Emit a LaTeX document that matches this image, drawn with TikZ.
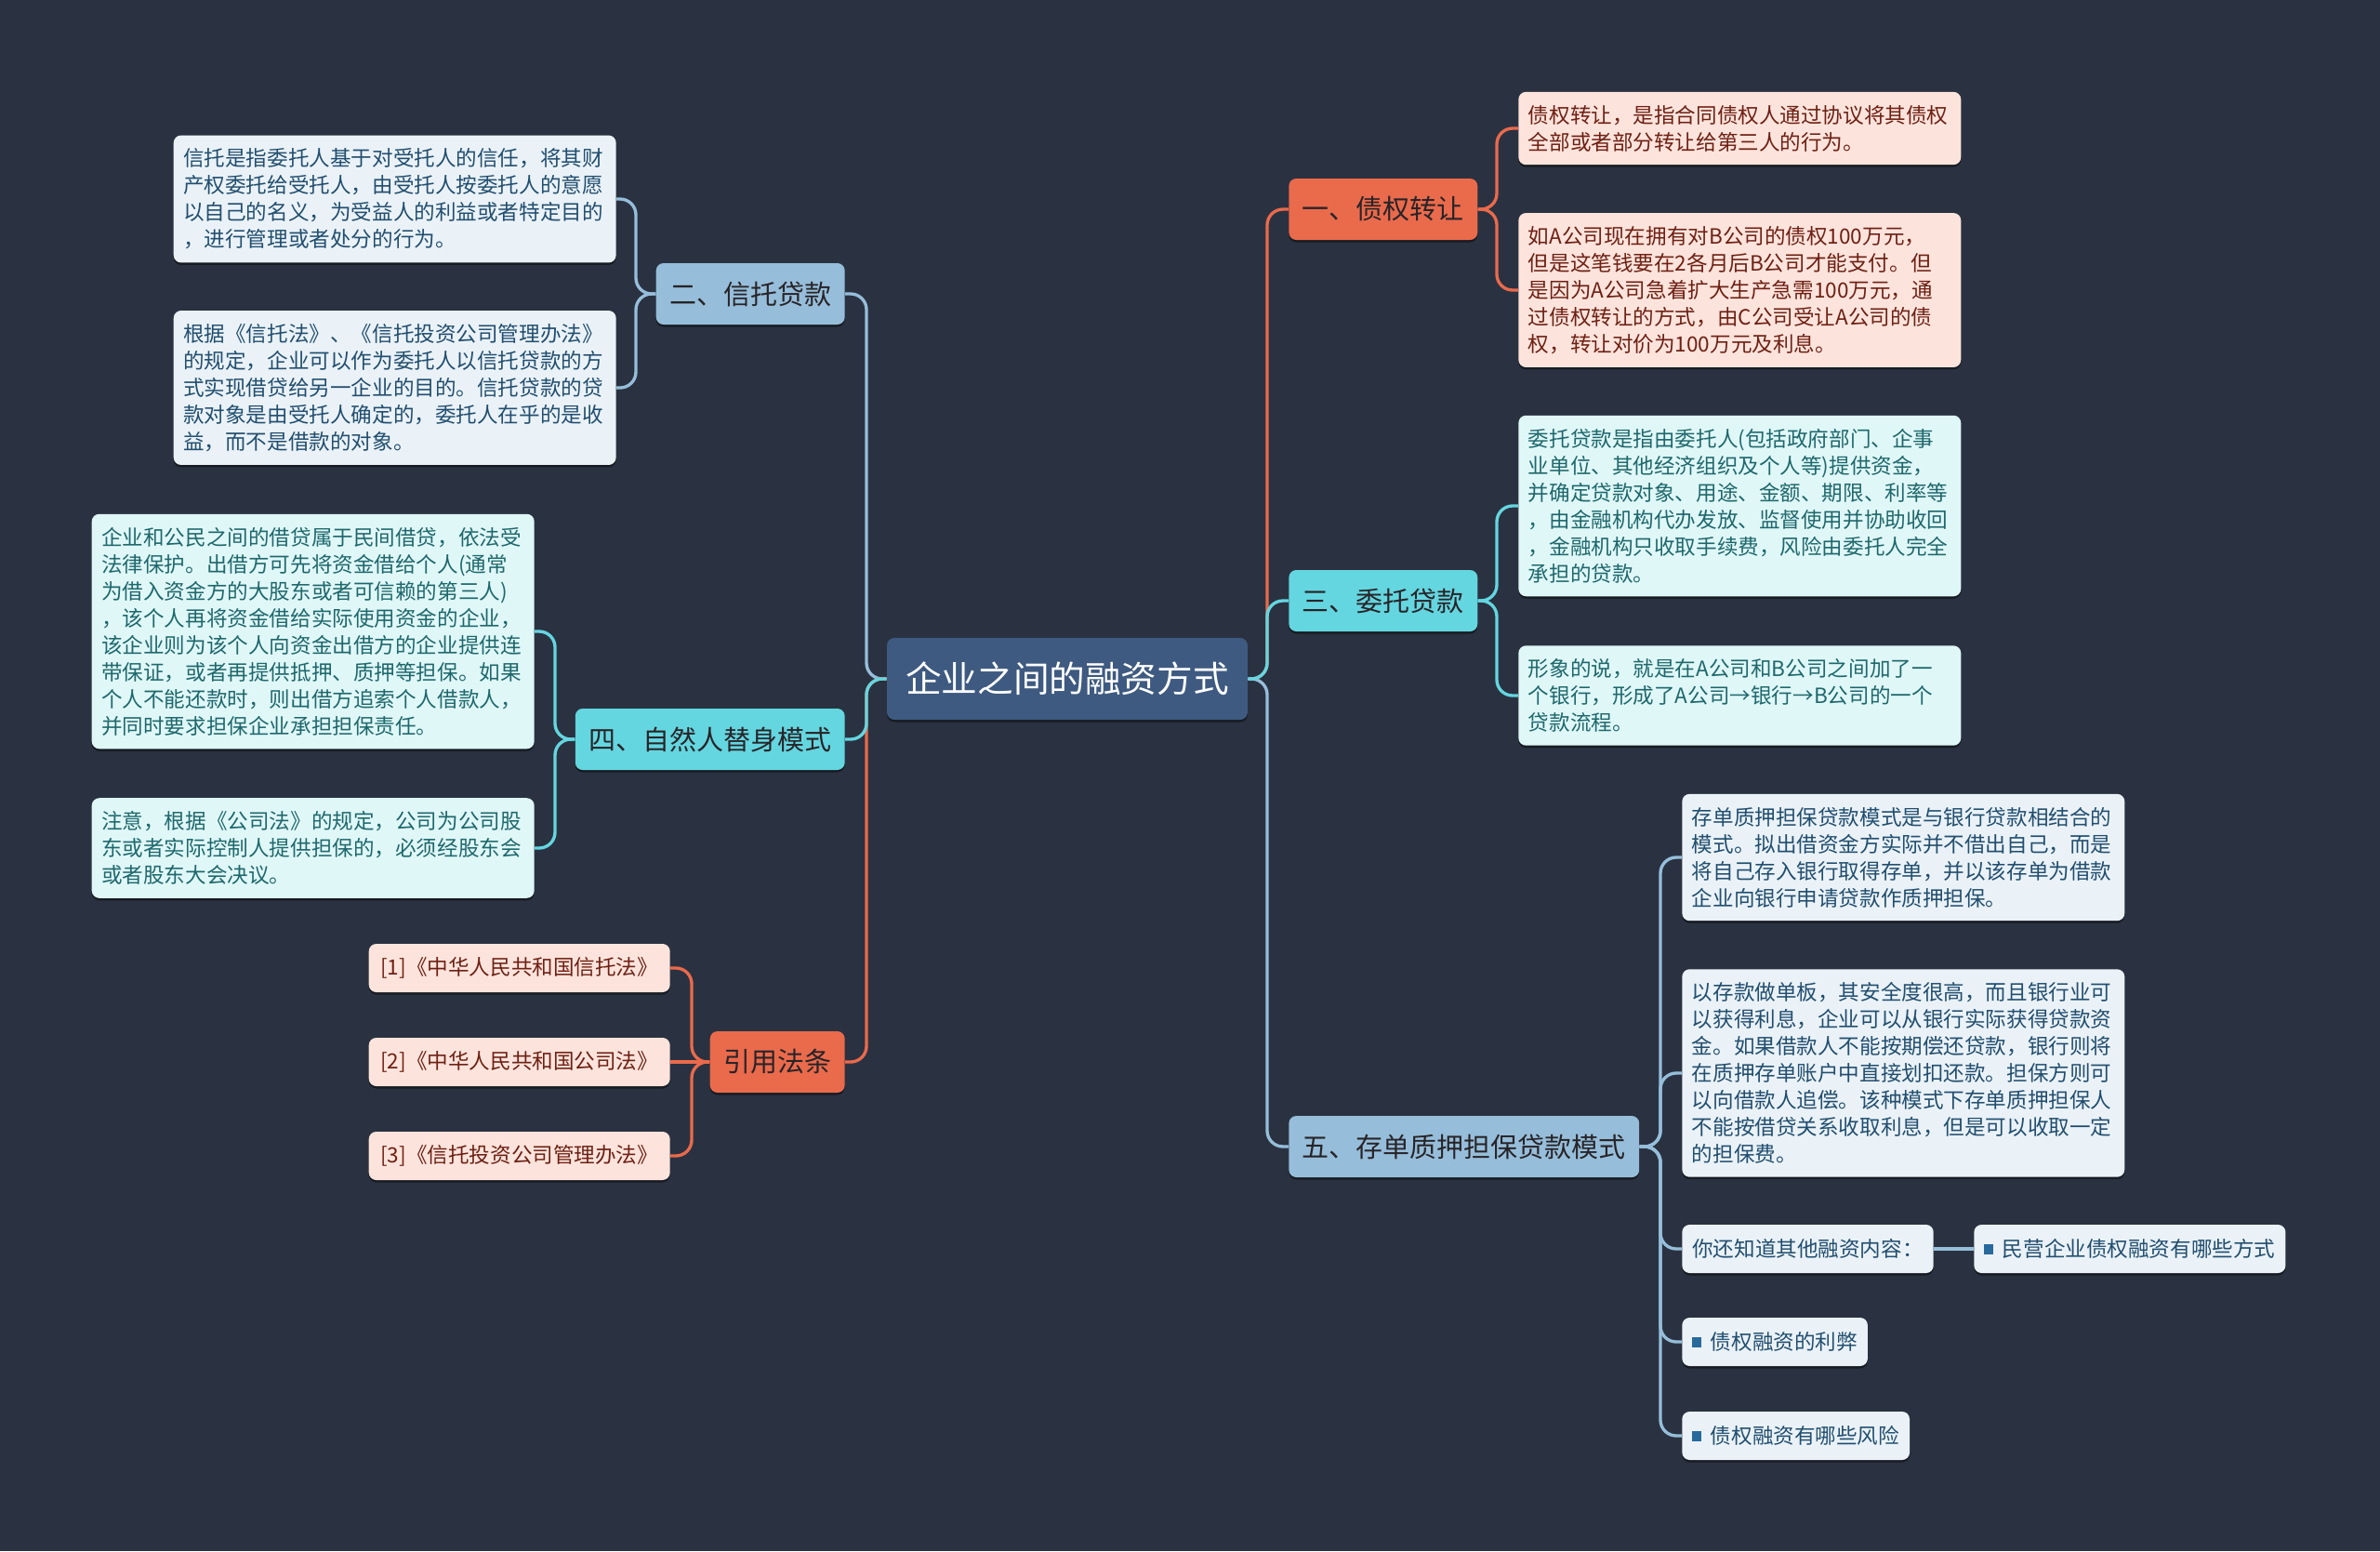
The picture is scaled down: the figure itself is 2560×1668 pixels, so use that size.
\documentclass[tikz,border=0pt]{standalone}
\usepackage{fontspec}
\setmainfont{Noto Sans CJK SC}
\usepackage{xcolor}
\usetikzlibrary{shadows}
\definecolor{bgnavy}{RGB}{42,50,65}
\definecolor{rootblue}{RGB}{62,90,128}
\definecolor{brcoral}{RGB}{234,106,76}
\definecolor{brcyan}{RGB}{100,214,224}
\definecolor{brblue}{RGB}{150,190,218}
\definecolor{lfcoral}{RGB}{252,228,220}
\definecolor{lfcyan}{RGB}{224,247,248}
\definecolor{lfblue}{RGB}{234,242,248}
\definecolor{txcoral}{RGB}{110,32,20}
\definecolor{txcyan}{RGB}{30,104,108}
\definecolor{txblue}{RGB}{34,78,110}
\definecolor{txdark}{RGB}{40,36,40}
\definecolor{bulletblue}{RGB}{40,105,155}
\newcommand\sqbul{{\color{bulletblue}\rule[0.06cm]{0.19cm}{0.22cm}}\hspace{0.2cm}}

\begin{document}
\begin{tikzpicture}[x=0.02cm,y=-0.02cm,
  box/.style={rounded corners=0.16cm,align=left,
    drop shadow={shadow xshift=0pt,shadow yshift=-0.05cm,opacity=0.45,fill=black}},
  root/.style={box,fill=rootblue,text=white,font=\fontsize{22}{26}\selectfont,
    minimum height=1.76cm,inner xsep=0.4cm},
  br/.style={box,text=txdark,font=\fontsize{16.5}{20}\selectfont,
    minimum height=1.32cm,inner xsep=0.29cm},
  leaf/.style={box,text width=9.1cm,inner xsep=0.21cm,inner ysep=8.1pt,
    font=\fontsize{12.85}{16.5}\selectfont},
  tag/.style={box,minimum height=1.04cm,inner xsep=0.22cm,
    font=\fontsize{12.85}{16.5}\selectfont},
  ln/.style={line width=1.9pt,rounded corners=0.34cm}]
  \fill[bgnavy] (0,0) rectangle (2560,1668);
  \useasboundingbox (0,0) rectangle (2560,1668);

  \node[root](root) at (1148,730){企业之间的融资方式};

  % right side
  \node[br,fill=brcoral,anchor=west](b1) at (1386,225){一、债权转让};
  \node[br,fill=brcyan,anchor=west](b3) at (1386,646){三、委托贷款};
  \node[br,fill=brblue,anchor=west](b5) at (1386,1233){五、存单质押担保贷款模式};
  % left side
  \node[br,fill=brblue,anchor=east](b2) at (909,316){二、信托贷款};
  \node[br,fill=brcyan,anchor=east](b4) at (909,795){四、自然人替身模式};
  \node[br,fill=brcoral,anchor=east](b6) at (909,1142){引用法条};

  % one
  \node[leaf,fill=lfcoral,text=txcoral,anchor=west](l1a) at (1633,138){债权转让，是指合同债权人通过协议将其债权\\全部或者部分转让给第三人的行为。};
  \node[leaf,fill=lfcoral,text=txcoral,anchor=west](l1b) at (1633,312){如A公司现在拥有对B公司的债权100万元，\\但是这笔钱要在2各月后B公司才能支付。但\\是因为A公司急着扩大生产急需100万元，通\\过债权转让的方式，由C公司受让A公司的债\\权，转让对价为100万元及利息。};
  % three
  \node[leaf,fill=lfcyan,text=txcyan,anchor=west](l3a) at (1633,544){委托贷款是指由委托人(包括政府部门、企事\\业单位、其他经济组织及个人等)提供资金，\\并确定贷款对象、用途、金额、期限、利率等\\，由金融机构代办发放、监督使用并协助收回\\，金融机构只收取手续费，风险由委托人完全\\承担的贷款。};
  \node[leaf,fill=lfcyan,text=txcyan,anchor=west](l3b) at (1633,748){形象的说，就是在A公司和B公司之间加了一\\个银行，形成了A公司→银行→B公司的一个\\贷款流程。};
  % five
  \node[leaf,fill=lfblue,text=txblue,anchor=west](l5a) at (1809,922){存单质押担保贷款模式是与银行贷款相结合的\\模式。拟出借资金方实际并不借出自己，而是\\将自己存入银行取得存单，并以该存单为借款\\企业向银行申请贷款作质押担保。};
  \node[leaf,fill=lfblue,text=txblue,anchor=west](l5b) at (1809,1154){以存款做单板，其安全度很高，而且银行业可\\以获得利息，企业可以从银行实际获得贷款资\\金。如果借款人不能按期偿还贷款，银行则将\\在质押存单账户中直接划扣还款。担保方则可\\以向借款人追偿。该种模式下存单质押担保人\\不能按借贷关系收取利息，但是可以收取一定\\的担保费。};
  \node[tag,fill=lfblue,text=txblue,anchor=west](l5c) at (1809,1343){你还知道其他融资内容：};
  \node[tag,fill=lfblue,text=txblue,anchor=west](l5c1) at (2123,1343){\sqbul 民营企业债权融资有哪些方式};
  \node[tag,fill=lfblue,text=txblue,anchor=west](l5d) at (1809,1443){\sqbul 债权融资的利弊};
  \node[tag,fill=lfblue,text=txblue,anchor=west](l5e) at (1809,1544){\sqbul 债权融资有哪些风险};
  % two
  \node[leaf,fill=lfblue,text=txblue,anchor=east](l2a) at (663,214){信托是指委托人基于对受托人的信任，将其财\\产权委托给受托人，由受托人按委托人的意愿\\以自己的名义，为受益人的利益或者特定目的\\，进行管理或者处分的行为。};
  \node[leaf,fill=lfblue,text=txblue,anchor=east](l2b) at (663,417){根据《信托法》、《信托投资公司管理办法》\\的规定，企业可以作为委托人以信托贷款的方\\式实现借贷给另一企业的目的。信托贷款的贷\\款对象是由受托人确定的，委托人在乎的是收\\益，而不是借款的对象。};
  % four
  \node[leaf,fill=lfcyan,text=txcyan,anchor=east](l4a) at (575,679){企业和公民之间的借贷属于民间借贷，依法受\\法律保护。出借方可先将资金借给个人(通常\\为借入资金方的大股东或者可信赖的第三人)\\，该个人再将资金借给实际使用资金的企业，\\该企业则为该个人向资金出借方的企业提供连\\带保证，或者再提供抵押、质押等担保。如果\\个人不能还款时，则出借方追索个人借款人，\\并同时要求担保企业承担担保责任。};
  \node[leaf,fill=lfcyan,text=txcyan,anchor=east](l4b) at (575,912){注意，根据《公司法》的规定，公司为公司股\\东或者实际控制人提供担保的，必须经股东会\\或者股东大会决议。};
  % six
  \node[tag,fill=lfcoral,text=txcoral,anchor=east,minimum width=6.48cm](l6a) at (721,1041){[1]《中华人民共和国信托法》};
  \node[tag,fill=lfcoral,text=txcoral,anchor=east,minimum width=6.48cm](l6b) at (721,1142){[2]《中华人民共和国公司法》};
  \node[tag,fill=lfcoral,text=txcoral,anchor=east,minimum width=6.48cm](l6c) at (721,1243){[3]《信托投资公司管理办法》};

  % trunk
  \draw[ln,brblue] (root.west) -- (932,730) |- (b2.east);
  \draw[ln,brcoral] (root.west) -- (932,730) |- (b6.east);
  \draw[ln,brcyan] (root.west) -- (932,730) |- (b4.east);
  \draw[ln,brcoral] (root.east) -- (1363,730) |- (b1.west);
  \draw[ln,brblue] (root.east) -- (1363,730) |- (b5.west);
  \draw[ln,brcyan] (root.east) -- (1363,730) |- (b3.west);
  % branches to leaves
  \draw[ln,brcoral] (b1.east) -- (1610,225) |- (l1a.west);
  \draw[ln,brcoral] (b1.east) -- (1610,225) |- (l1b.west);
  \draw[ln,brcyan] (b3.east) -- (1610,646) |- (l3a.west);
  \draw[ln,brcyan] (b3.east) -- (1610,646) |- (l3b.west);
  \foreach \t in {l5a,l5b,l5c,l5d,l5e}
    \draw[ln,brblue] (b5.east) -- (1786,1233) |- (\t.west);
  \draw[ln,brblue] (l5c.east) -- (l5c1.west);
  \draw[ln,brblue] (b2.west) -- (684,316) |- (l2a.east);
  \draw[ln,brblue] (b2.west) -- (684,316) |- (l2b.east);
  \draw[ln,brcyan] (b4.west) -- (597,795) |- (l4a.east);
  \draw[ln,brcyan] (b4.west) -- (597,795) |- (l4b.east);
  \draw[ln,brcoral] (b6.west) -- (744,1142) |- (l6a.east);
  \draw[ln,brcoral] (b6.west) -- (l6b.east);
  \draw[ln,brcoral] (b6.west) -- (744,1142) |- (l6c.east);
\end{tikzpicture}
\end{document}
